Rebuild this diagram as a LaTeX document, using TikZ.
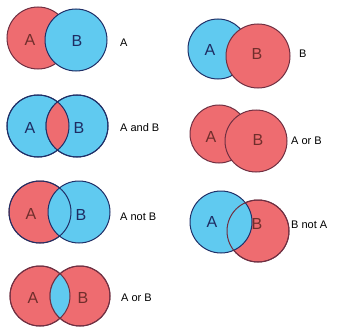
\documentclass[tikz,border=0pt]{standalone}
\usepackage{fontspec}
\setmainfont{Liberation Sans}
\usepackage{xcolor}
\usetikzlibrary{positioning}

\definecolor{vennred}{RGB}{238,108,112}
\definecolor{vennblue}{RGB}{96,202,240}
\definecolor{redrim}{RGB}{112,48,66}
\definecolor{bluerim}{RGB}{32,48,104}
\definecolor{redink}{RGB}{112,46,44}
\definecolor{blueink}{RGB}{30,44,98}

\begin{document}
\begin{tikzpicture}[
    x=1pt, y=-1pt,
    venn/.style={circle, minimum size=62pt, inner sep=0pt, line width=1pt},
    redset/.style={venn, fill=vennred, draw=redrim},
    blueset/.style={venn, fill=vennblue, draw=bluerim},
    letter/.style={font=\fontsize{16}{16}\selectfont, inner sep=0pt},
    caption/.style={anchor=west, font=\fontsize{11}{11}\selectfont, inner sep=0pt}
]
\useasboundingbox[fill=white] (0,0) rectangle (339,334);

% A
\node[redset] (a1) at (38,38) {};
\node[blueset] (b1) at (76,40) {};
\node[letter, text=redink] (la1) at (30,40) {A};
\node[letter, text=blueink] (lb1) at (77,41) {B};
\node[caption] (c1) at (120,43) {A};

% A and B
\node[blueset] (a2) at (38,126) {};
\node[blueset] (b2) at (77,126) {};
\begin{scope}
  \clip (a2.center) circle[radius=31pt];
  \fill[vennred] (b2.center) circle[radius=31pt];
\end{scope}
\draw[bluerim, line width=1pt] (a2.center) circle[radius=31pt];
\draw[bluerim, line width=1pt] (b2.center) circle[radius=31pt];
\node[letter, text=blueink] (la2) at (30,128) {A};
\node[letter, text=blueink] (lb2) at (79,128) {B};
\node[caption] (c2) at (120,128) {A and B};

% A not B
\node[redset] (a3) at (40,212) {};
\node[blueset] (b3) at (79,212) {};
\draw[bluerim, line width=1pt] (a3.center) circle[radius=31pt];
\node[letter, text=redink] (la3) at (31,214) {A};
\node[letter, text=blueink] (lb3) at (81,215) {B};
\node[caption] (c3) at (120,217) {A not B};

% A or B (left)
\node[redset, minimum size=60pt] (a4) at (40,296) {};
\node[redset, minimum size=60pt] (b4) at (80,296) {};
\begin{scope}
  \clip (a4.center) circle[radius=30pt];
  \fill[vennblue] (b4.center) circle[radius=30pt];
\end{scope}
\draw[redrim, line width=1pt] (a4.center) circle[radius=30pt];
\draw[redrim, line width=1pt] (b4.center) circle[radius=30pt];
\node[letter, text=redink] (la4) at (33,298) {A};
\node[letter, text=redink] (lb4) at (83,298) {B};
\node[caption] (c4) at (121,298) {A or B};

% B
\node[blueset, minimum size=60pt] (a5) at (218,49) {};
\node[redset, minimum size=64pt] (b5) at (258,56) {};
\node[letter, text=blueink] (la5) at (210,50) {A};
\node[letter, text=redink] (lb5) at (257,54) {B};
\node[caption] (c5) at (299,54) {B};

% A or B (right)
\node[redset, minimum size=58pt] (a6) at (219,134) {};
\node[redset, minimum size=62pt] (b6) at (256,141) {};
\node[letter, text=redink] (la6) at (211,137) {A};
\node[letter, text=redink] (lb6) at (258,140) {B};
\node[caption] (c6) at (291,141) {A or B};

% B not A
\node[redset] (b7) at (258,231) {};
\node[blueset] (a7) at (221,222) {};
\draw[redrim, line width=1pt] (b7.center) circle[radius=31pt];
\node[letter, text=blueink] (la7) at (212,222) {A};
\node[letter, text=redink] (lb7) at (257,224) {B};
\node[caption] (c7) at (291,225) {B not A};

\end{tikzpicture}
\end{document}
